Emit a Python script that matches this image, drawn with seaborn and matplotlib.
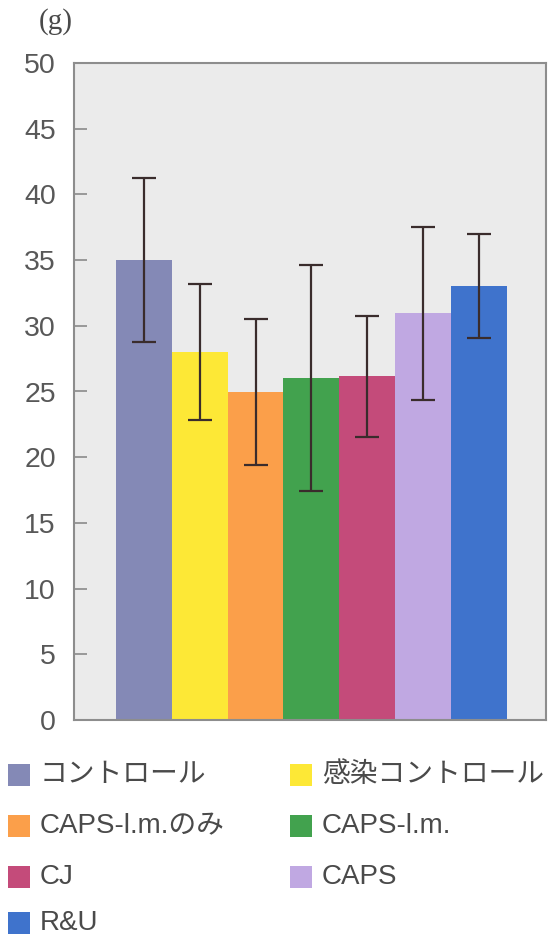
import numpy as np
import pandas as pd
import matplotlib
matplotlib.use("Agg")
import matplotlib.pyplot as plt
from matplotlib.patches import Rectangle
import seaborn as sns

# data
groups = ["コントロール", "感染コントロール", "CAPS-l.m.のみ", "CAPS-l.m.", "CJ", "CAPS", "R&U"]
weights = [35.0, 28.0, 24.95, 26.0, 26.15, 30.95, 33.0]
errors = [6.25, 5.15, 5.55, 8.6, 4.6, 6.6, 3.95]
colors = ["#8489b6", "#fde836", "#fb9f4a", "#42a24e", "#c44b7a", "#c0a8e2", "#3f73cc"]
yticks = [0, 5, 10, 15, 20, 25, 30, 35, 40, 45, 50]

sns.set_style("white")
plt.rcParams["font.family"] = ["Liberation Sans", "Noto Sans CJK JP", "DejaVu Sans"]

df = pd.DataFrame({"group": groups, "weight": weights})

fig = plt.figure(figsize=(5.5, 9.38), dpi=100)
ax = fig.add_axes([74 / 550, 1 - 720 / 938, 472 / 550, 657 / 938])
ax.set_facecolor("#ebebeb")

sns.barplot(data=df, x="group", y="weight", hue="group", palette=colors,
            width=1.0, saturation=1, linewidth=0, legend=False, ax=ax)
ax.errorbar(np.arange(len(groups)), weights, yerr=errors, fmt="none",
            ecolor="#3a2c2c", elinewidth=1.6, capsize=8.5, capthick=1.6)

ax.set_xlim(-1.25, 7.2)
ax.set_ylim(0, 50)
ax.set_yticks(yticks)
ax.set_xticks([])
ax.set_xlabel("")
ax.set_ylabel("")
ax.tick_params(axis="y", direction="in", length=9, width=1.2, color="#8a8a8a",
               labelsize=20.5, labelcolor="#585858", pad=13, left=True)
for s in ax.spines.values():
    s.set_visible(True)
    s.set_color("#8d8d8d")
    s.set_linewidth(1.5)

fig.text(56 / 550, 1 - 22 / 938, "(g)", family="Liberation Serif", fontsize=21,
         color="#4a4a4a", ha="center", va="center")

# legend, filled row by row
row_y = [775, 826, 877, 923]
col_x = [8, 290]
for i, (g, c) in enumerate(zip(groups, colors)):
    px = col_x[i % 2]
    py = row_y[i // 2]
    fig.patches.append(Rectangle((px / 550, 1 - (py + 11) / 938), 22 / 550, 22 / 938,
                                 transform=fig.transFigure, facecolor=c,
                                 edgecolor="none", figure=fig))
    fig.text((px + 32) / 550, 1 - py / 938, g, fontsize=20, color="#4a4a4a",
             ha="left", va="center")

fig.savefig("out.png", dpi=100, facecolor="white")
